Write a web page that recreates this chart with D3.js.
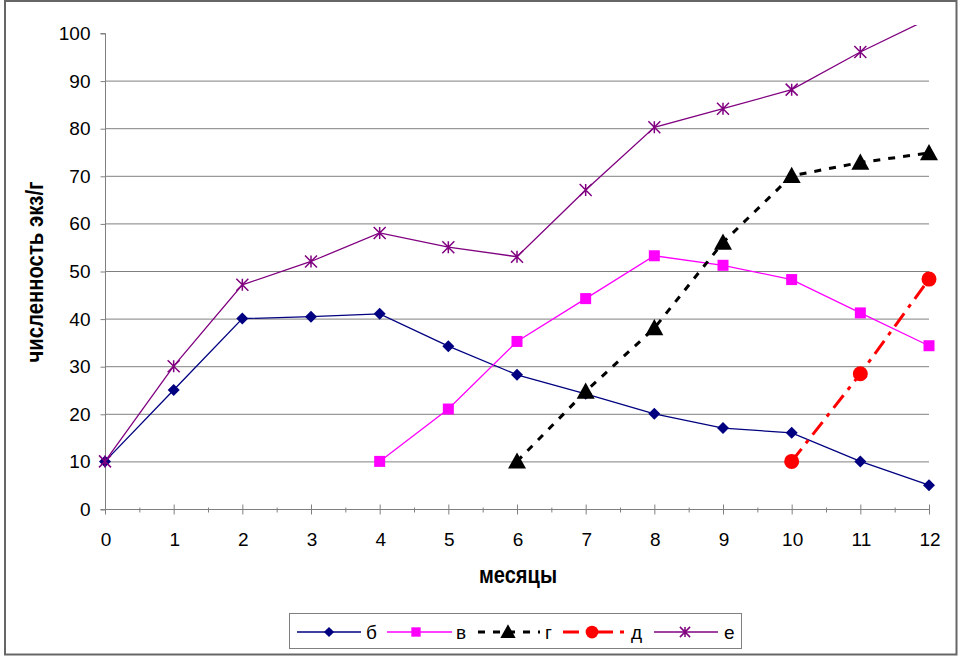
<!DOCTYPE html>
<html><head><meta charset="utf-8">
<script src="https://cdn.jsdelivr.net/npm/d3@7"></script>
<style>
html,body{margin:0;padding:0;background:#fff;}
svg{display:block;font-family:"Liberation Sans",Arial,sans-serif;}
</style></head>
<body>
<svg id="chart" width="958" height="656"></svg>
<script>
const months = [0,1,2,3,4,5,6,7,8,9,10,11,12];
const yTicks = [0,10,20,30,40,50,60,70,80,90,100];
const seriesNames = ["б","в","г","д","е"];
const seriesB = [[0,10],[1,25],[2,40],[3,40.4],[4,41],[5,34.2],[6,28.2],[7,24.2],[8,20],[9,17],[10,16],[11,10],[12,5]];
const seriesV = [[4,10],[5,21],[6,35.2],[7,44.2],[8,53.2],[9,51.2],[10,48.2],[11,41.2],[12,34.3]];
const seriesG = [[6,10],[7,24.7],[8,38],[9,56],[10,70],[11,72.8],[12,74.8]];
const seriesD = [[10,10],[11,28.4],[12,48.3]];
const seriesE = [[0,10],[1,30],[2,47.1],[3,52],[4,58],[5,55],[6,53],[7,67],[8,80.2],[9,84.1],[10,88.1],[11,96],[12,103]];

(function(){
const svg = d3.select("#chart");
const pL = 105, pR = 929, pT = 33, pB = 509;
const x = d3.scaleLinear().domain([0,12]).range([pL,pR]);
const y = d3.scaleLinear().domain([0,100]).range([pB,pT]);
const FONT = "Liberation Sans, Arial, sans-serif";

// outer frame
svg.append("rect").attr("x",5).attr("y",1).attr("width",951.5).attr("height",653.5)
  .attr("fill","none").attr("stroke","#666").attr("stroke-width",2);

// clip
svg.append("defs").append("clipPath").attr("id","clip")
  .append("rect").attr("x",pL-10).attr("y",25).attr("width",pR-pL+20).attr("height",pB-25+10);

// gridlines
svg.append("g").selectAll("line").data(yTicks.filter(d=>d>0 && d<100)).join("line")
  .attr("x1",pL).attr("x2",pR).attr("y1",d=>y(d)+0.5).attr("y2",d=>y(d)+0.5)
  .attr("stroke","#808080").attr("stroke-width",1);

// y axis
const yAxis = d3.axisLeft(y).tickValues(yTicks).tickSize(5).tickPadding(10).tickFormat(d3.format("d"));
const gy = svg.append("g").attr("transform",`translate(${pL+0.5},0.5)`).call(yAxis);
gy.select(".domain").attr("stroke","#808080").attr("d",`M-5,${pB}H0V${pT}H-5`);
gy.selectAll(".tick line").attr("stroke","#808080");
gy.selectAll("text").attr("font-size",19).attr("fill","#000").attr("font-family",FONT);

// x axis
const xAxis = d3.axisBottom(x).tickValues(months).tickSize(0).tickPadding(0).tickFormat(d3.format("d"));
const gx = svg.append("g").attr("transform",`translate(0.5,${pB+0.5})`).call(xAxis);
gx.select(".domain").attr("stroke","#808080").attr("d",`M${pL},0H${pR}`);
gx.selectAll("text").attr("font-size",19).attr("fill","#000").attr("font-family",FONT)
  .attr("dy",null).attr("y",36);
gx.append("g").selectAll("line").data(months).join("line")
  .attr("x1",d=>x(d)).attr("x2",d=>x(d)).attr("y1",-5).attr("y2",5).attr("stroke","#808080");
gx.append("g").selectAll("line").data(months.slice(0,-1).map(d=>d+0.5)).join("line")
  .attr("x1",d=>x(d)).attr("x2",d=>x(d)).attr("y1",-2).attr("y2",3).attr("stroke","#808080");

// axis titles
svg.append("text").attr("x",518).attr("y",583).attr("text-anchor","middle")
  .attr("font-size",23).attr("font-weight","bold").attr("textLength",78).attr("lengthAdjust","spacingAndGlyphs")
  .text("месяцы");
svg.append("text").attr("transform","translate(43,272) rotate(-90)").attr("text-anchor","middle")
  .attr("font-size",23).attr("font-weight","bold").attr("textLength",181).attr("lengthAdjust","spacingAndGlyphs")
  .text("численность экз/г");

const line = d3.line().x(d=>x(d[0])).y(d=>y(d[1]));

const styles = [
  {data:seriesB, color:"#000080", width:1.3, dash:null, marker:"diamond", size:6},
  {data:seriesV, color:"#FF00FF", width:1.3, dash:null, marker:"square", size:5.5},
  {data:seriesG, color:"#000000", width:3, dash:"7,8", marker:"triangle", size:9},
  {data:seriesD, color:"#FF0000", width:3, dash:"16,7,4,7", marker:"circle", size:7.5},
  {data:seriesE, color:"#800080", width:1.3, dash:null, marker:"star", size:6}
];

function drawMarker(g, type, cx, cy, s, color){
  if(type==="diamond"){
    g.append("path").attr("d",`M${cx},${cy-s}L${cx+s},${cy}L${cx},${cy+s}L${cx-s},${cy}Z`).attr("fill",color);
  } else if(type==="square"){
    g.append("rect").attr("x",cx-s).attr("y",cy-s).attr("width",2*s).attr("height",2*s).attr("fill",color);
  } else if(type==="triangle"){
    g.append("path").attr("d",`M${cx},${cy-s}L${cx+s},${cy+s*0.8}L${cx-s},${cy+s*0.8}Z`).attr("fill",color);
  } else if(type==="circle"){
    g.append("circle").attr("cx",cx).attr("cy",cy).attr("r",s).attr("fill",color);
  } else if(type==="star"){
    const p = `M${cx-s},${cy-s}L${cx+s},${cy+s}M${cx-s},${cy+s}L${cx+s},${cy-s}M${cx},${cy-s}L${cx},${cy+s}`;
    g.append("path").attr("d",p).attr("stroke",color).attr("stroke-width",1.5).attr("fill","none");
  }
}

const plot = svg.append("g").attr("clip-path","url(#clip)");
styles.forEach(st=>{
  plot.append("path").datum(st.data).attr("d",line).attr("fill","none")
    .attr("stroke",st.color).attr("stroke-width",st.width)
    .attr("stroke-dasharray",st.dash);
});
styles.forEach(st=>{
  const g = svg.append("g");
  st.data.filter(d=>d[1]<=100.5).forEach(d=>drawMarker(g, st.marker, x(d[0]), y(d[1]), st.size, st.color));
});

// legend
const lg = svg.append("g");
lg.append("rect").attr("x",289.5).attr("y",613.5).attr("width",452).attr("height",35)
  .attr("fill","#fff").attr("stroke","#808080").attr("stroke-width",1);
const legendPos = [
  {x1:297,x2:361,m:329,t:366},
  {x1:387,x2:452,m:416,t:456},
  {x1:478,x2:540,m:508,t:545},
  {x1:563,x2:628,m:592,t:631},
  {x1:654,x2:718,m:685,t:724}
];
const ly = 632;
styles.forEach((st,i)=>{
  const p = legendPos[i];
  lg.append("line").attr("x1",p.x1).attr("x2",p.x2).attr("y1",ly).attr("y2",ly)
    .attr("stroke",st.color).attr("stroke-width",st.width).attr("stroke-dasharray",st.dash);
  drawMarker(lg, st.marker, p.m, ly, st.size*0.85, st.color);
  lg.append("text").attr("x",p.t).attr("y",ly+7).attr("font-size",19).attr("font-family",FONT).text(seriesNames[i]);
});
})();
</script>
</body></html>
